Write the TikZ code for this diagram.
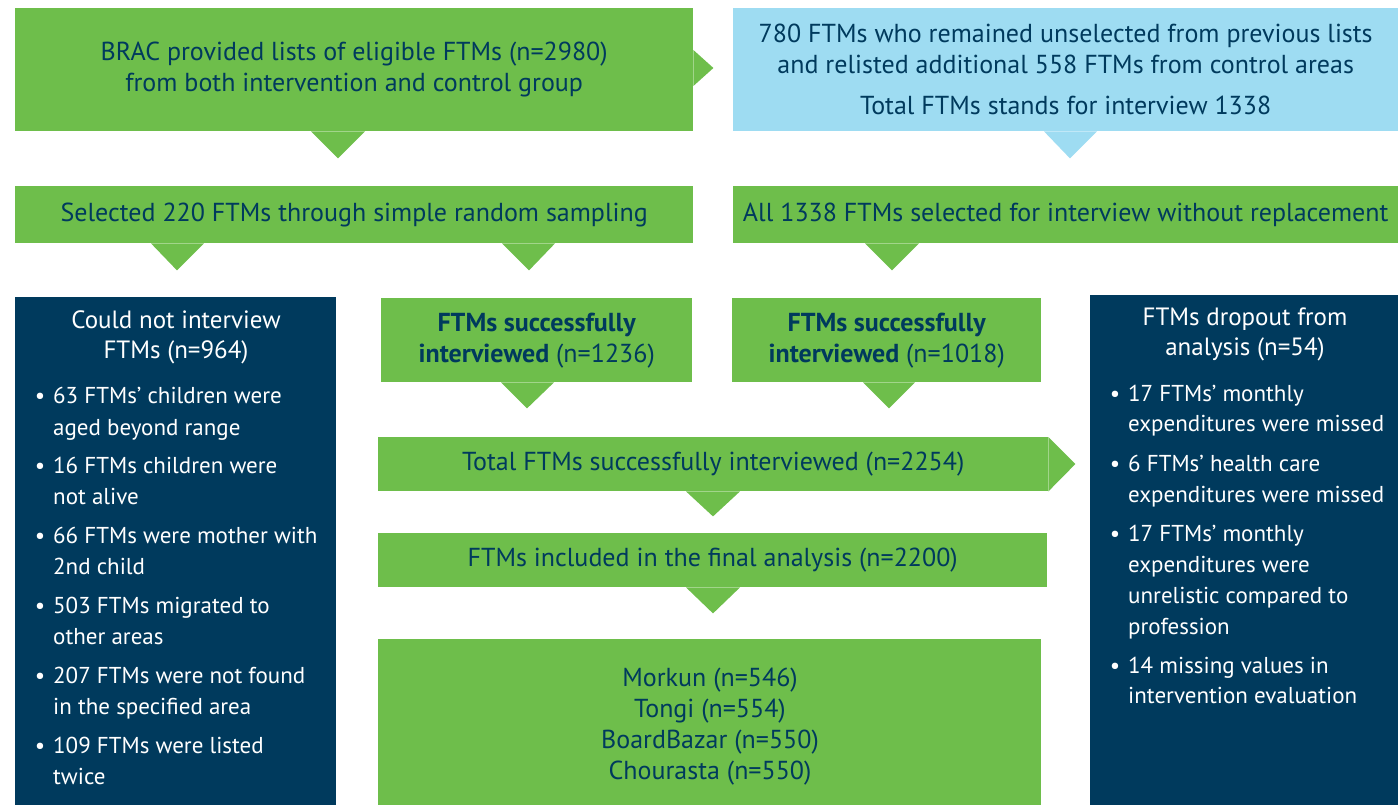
\documentclass[tikz,border=0pt]{standalone}
\usepackage{fontspec}
\setmainfont{PT Sans}
\usetikzlibrary{calc}
\definecolor{leaf}{RGB}{110,190,75}
\definecolor{sky}{RGB}{158,220,242}
\definecolor{navy}{RGB}{0,58,93}
\begin{document}
\begin{tikzpicture}[x=1pt,y=-1pt,
  box/.style={fill=#1, draw=none, inner sep=0pt, anchor=north west, align=center},
  gtxt/.style={text=navy, font=\fontsize{26}{31}\selectfont},
  wtxt/.style={text=white, font=\fontsize{25}{30.5}\selectfont},
  ltxt/.style={text=white, font=\fontsize{23}{30}\selectfont, inner sep=0pt}]
\useasboundingbox (0,0) rectangle (1398,805);

% top row
\node[box=leaf, gtxt, minimum width=678, minimum height=123] (A) at (15,8)
  {BRAC provided lists of eligible FTMs (n=2980)\\from both intervention and control group};
\node[box=sky, gtxt, minimum width=665, minimum height=123] (B) at (733,8)
  {780 FTMs who remained unselected from previous lists\\and relisted additional 558 FTMs from control areas\\[10pt]Total FTMs stands for interview 1338};
\fill[leaf] (A.north east) ++(0,42) -- ++(20,18) -- ++(-20,18) -- cycle;
\fill[leaf] ($(A.south west)+(296,0)$) -- ($(A.south west)+(323,27)$) -- ($(A.south west)+(350,0)$) -- cycle;
\fill[sky] ($(B.south west)+(311,0)$) -- ($(B.south west)+(337,27)$) -- ($(B.south west)+(364,0)$) -- cycle;

% second row
\node[box=leaf, gtxt, minimum width=678, minimum height=57] (C) at (15,186)
  {Selected 220 FTMs through simple random sampling};
\node[box=leaf, gtxt, minimum width=665, minimum height=57] (D) at (733,186)
  {All 1338 FTMs selected for interview without replacement};
\fill[leaf] ($(C.south west)+(136,0)$) -- ($(C.south west)+(162,27)$) -- ($(C.south west)+(189,0)$) -- cycle;
\fill[leaf] ($(C.south west)+(487,0)$) -- ($(C.south west)+(514,27)$) -- ($(C.south west)+(540,0)$) -- cycle;
\fill[leaf] ($(D.south west)+(132,0)$) -- ($(D.south west)+(159,27)$) -- ($(D.south west)+(186,0)$) -- cycle;

% interviewed counts
\node[box=leaf, gtxt, minimum width=311, minimum height=84] (F) at (381,298)
  {\textbf{FTMs successfully}\\\textbf{interviewed} (n=1236)};
\node[box=leaf, gtxt, minimum width=309, minimum height=84] (G) at (732,298)
  {\textbf{FTMs successfully}\\\textbf{interviewed} (n=1018)};
\fill[leaf] ($(F.south west)+(120,0)$) -- ($(F.south west)+(146,26)$) -- ($(F.south west)+(173,0)$) -- cycle;
\fill[leaf] ($(G.south west)+(131,0)$) -- ($(G.south west)+(157,26)$) -- ($(G.south west)+(183,0)$) -- cycle;

% totals
\node[box=leaf, gtxt, minimum width=670, minimum height=54] (I) at (378,437)
  {Total FTMs successfully interviewed (n=2254)};
\fill[leaf] (I.north east) -- ++(27,27) -- (I.south east) -- cycle;
\fill[leaf] ($(I.south west)+(308,0)$) -- ($(I.south west)+(335,25)$) -- ($(I.south west)+(362,0)$) -- cycle;
\node[box=leaf, gtxt, minimum width=669, minimum height=54] (J) at (378,533)
  {FTMs included in the final analysis (n=2200)};
\fill[leaf] ($(J.south west)+(308,0)$) -- ($(J.south west)+(335,26)$) -- ($(J.south west)+(362,0)$) -- cycle;
\node[box=leaf, minimum width=663, minimum height=166] (K) at (378,639) {};
\node[gtxt, align=center, inner sep=0pt] (Kt) at (710,727)
  {Morkun (n=546)\\Tongi (n=554)\\BoardBazar (n=550)\\Chourasta (n=550)};

% excluded FTMs
\node[box=navy, minimum width=321, minimum height=508] (E) at (15,297) {};
\node[wtxt, align=center, anchor=north] (Et) at (176,307) {Could not interview\\FTMs (n=964)};
\foreach \yy/\lbl/\bb [count=\i] in {
  403/63 FTMs’ children were/1, 435/aged beyond range/0,
  473/16 FTMs children were/1, 504/not alive/0,
  543/66 FTMs were mother with/1, 574/2nd child/0,
  613/503 FTMs migrated to/1, 644/other areas/0,
  683/207 FTMs were not found/1, 714/in the specified area/0,
  753/109 FTMs were listed/1, 784/twice/0}{
  \node[ltxt, anchor=base west] (E\i) at (53,\yy) {\lbl};
  \ifnum\bb=1 \node[ltxt, anchor=base] (Eb\i) at (40,\yy) {•}; \fi
}

% dropouts
\node[box=navy, minimum width=308, minimum height=510] (H) at (1090,295) {};
\node[wtxt, align=center, anchor=north] (Ht) at (1245,304) {FTMs dropout from\\analysis (n=54)};
\foreach \yy/\lbl/\bb [count=\i] in {
  401/17 FTMs’ monthly/1, 431/expenditures were missed/0,
  471/6 FTMs’ health care/1, 502/expenditures were missed/0,
  541/17 FTMs’ monthly/1, 572/expenditures were/0,
  603/unrelistic compared to/0, 634/profession/0,
  673/14 missing values in/1, 703/intervention evaluation/0}{
  \node[ltxt, anchor=base west] (H\i) at (1128,\yy) {\lbl};
  \ifnum\bb=1 \node[ltxt, anchor=base] (Hb\i) at (1115,\yy) {•}; \fi
}
\end{tikzpicture}
\end{document}
